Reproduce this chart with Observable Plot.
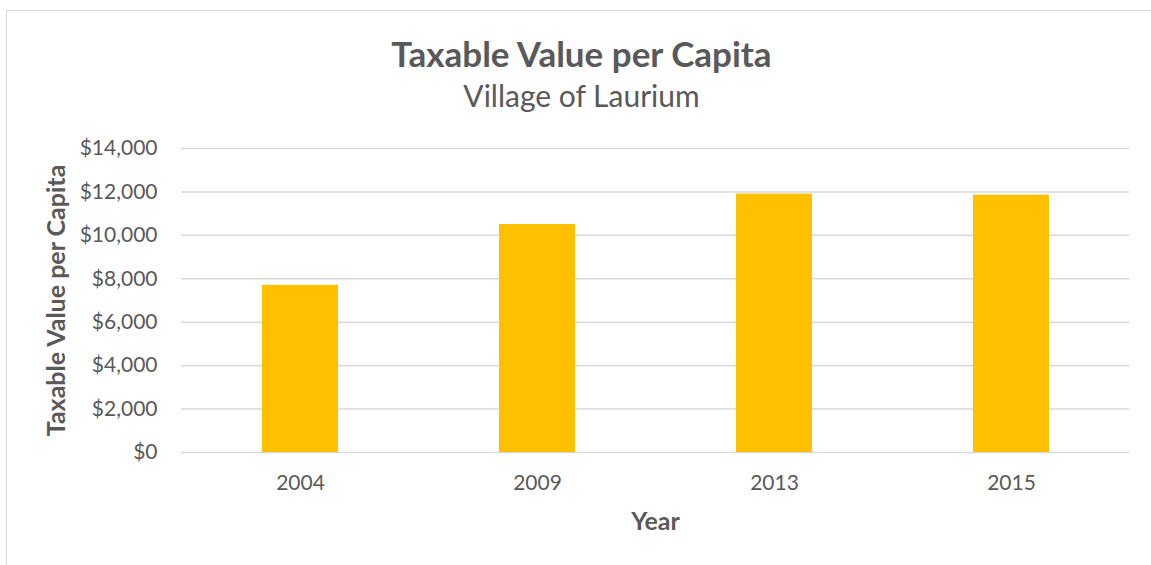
<!DOCTYPE html>
<html><head><meta charset="utf-8">
<script src="https://cdn.jsdelivr.net/npm/d3@7"></script>
<script src="https://cdn.jsdelivr.net/npm/@observablehq/plot@0.6"></script>
<style>
html,body{margin:0;padding:0;background:#fff;overflow:hidden;width:1151px;height:565px;}
#frame{position:absolute;left:6px;top:10px;width:1200px;height:600px;border:1px solid #d9d9d9;box-sizing:border-box;}
#head{position:absolute;left:0;top:0;width:1151px;height:120px;font-family:Lato,sans-serif;color:#595959;z-index:2;}
#title{position:absolute;left:6px;width:1151px;top:32px;text-align:center;font-weight:bold;font-size:35px;line-height:42px;white-space:nowrap;}
#subtitle{position:absolute;left:6px;width:1151px;top:77px;text-align:center;font-size:30px;line-height:36px;white-space:nowrap;}
#chart{position:absolute;left:0;top:0;z-index:1;}
</style></head>
<body>
<div id="frame"></div>
<div id="chart"></div>
<div id="head"><div id="title">Taxable Value per Capita</div><div id="subtitle">Village of Laurium</div></div>
<script>
const years = ["2004", "2009", "2013", "2015"];
const values = [7700, 10500, 11900, 11850];
const yTicks = [0, 2000, 4000, 6000, 8000, 10000, 12000, 14000];
const yTitle = "Taxable Value per Capita";
const xTitle = "Year";

const data = years.map((y, i) => ({year: y, value: values[i]}));

const chart = Plot.plot({
  width: 1151,
  height: 565,
  marginTop: 148,
  marginBottom: 113,
  marginLeft: 181,
  marginRight: 22,
  style: {fontFamily: "Lato, sans-serif", color: "#595959", background: "transparent"},
  x: {domain: years, paddingInner: 0.68, paddingOuter: 0.34},
  y: {domain: [0, 14000]},
  marks: [
    Plot.ruleY(yTicks, {stroke: "#d9d9d9", strokeWidth: 1.5}),
    Plot.barY(data, {x: "year", y: "value", fill: "#ffc000"}),
    Plot.axisY(yTicks, {tickFormat: d3.format("$,"), tickSize: 0, tickPadding: 24, fontSize: 21, label: null}),
    Plot.axisX(years, {tickSize: 0, tickPadding: 23, fontSize: 21, label: null}),
    Plot.text([yTitle], {frameAnchor: "left", textAnchor: "middle", lineAnchor: "middle", dx: -125, rotate: -90, fontSize: 25, fontWeight: "bold", fill: "#595959"}),
    Plot.text([xTitle], {frameAnchor: "bottom", textAnchor: "middle", lineAnchor: "middle", dy: 69, fontSize: 25, fontWeight: "bold", fill: "#595959"})
  ]
});
document.getElementById("chart").appendChild(chart);
</script>
</body></html>
